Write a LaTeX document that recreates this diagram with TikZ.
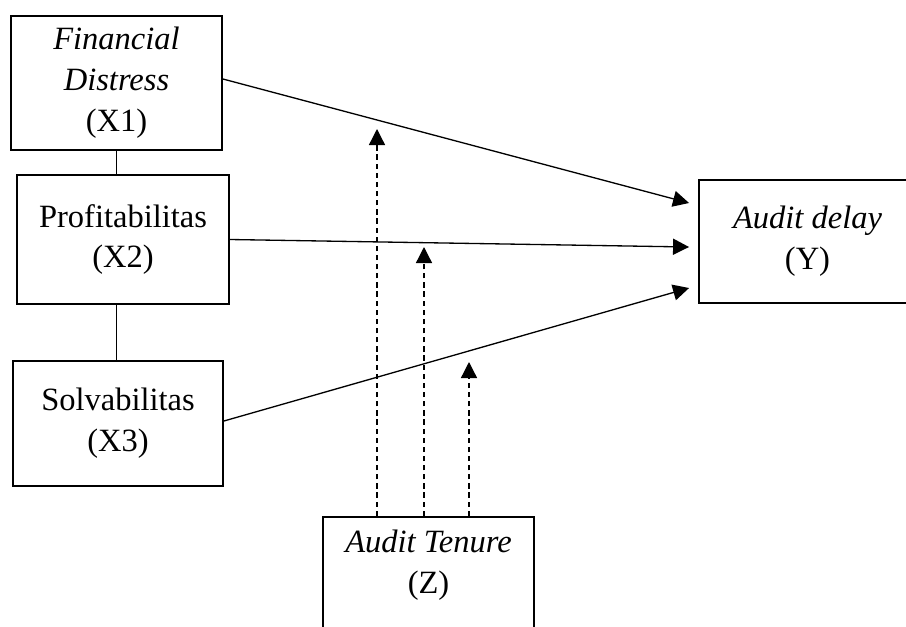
\documentclass[tikz,border=0pt]{standalone}
\usepackage{fontspec}
\setmainfont{Liberation Serif}
\usetikzlibrary{arrows.meta,calc}
\begin{document}
\begin{tikzpicture}[x=0.02cm,y=-0.02cm,font=\fontsize{18.5}{23.3}\selectfont,
  box/.style={draw,line width=1.1pt,rectangle,align=center,inner sep=0pt},
  link/.style={line width=0.75pt,-{Triangle[length=0.32cm,width=0.32cm]}},
  moderate/.style={link,dash pattern=on 3pt off 2.2pt}]
\useasboundingbox (0,0) rectangle (906,626);
\node[box,minimum width=4.22cm,minimum height=2.68cm] (x1) at (116.5,83) {\textit{Financial}\\ \textit{Distress}\\ (X1)};
\node[box,minimum width=4.24cm,minimum height=2.58cm] (x2) at (123,239.5) {Profitabilitas\\ (X2)};
\node[box,minimum width=4.2cm,minimum height=2.5cm] (x3) at (118,423.5) {Solvabilitas\\ (X3)};
\node[box,minimum width=4.34cm,minimum height=2.46cm] (y) at (807.5,241.5) {\textit{Audit delay}\\ (Y)};
\node[box,minimum width=4.22cm,minimum height=2.8cm,anchor=north,
  label={[anchor=north,yshift=-0.16cm,align=center]north:\textit{Audit Tenure}\\ (Z)}] (z) at (428.5,516) {};
\draw[line width=0.75pt] (x1.south) -- (x1.south |- x2.north);
\draw[line width=0.75pt] (x2.south -| x1.south) -- (x3.north -| x1.south);
\draw[link] ($(x1.east)+(0,-4)$) -- ($(y.west)+(-9,-38.5)$);
\draw[link] (x2.east) -- ($(y.west)+(-9,5.5)$);
\draw[link] ($(x3.east)+(0,-2.5)$) -- ($(y.west)+(-9,46.5)$);
\coordinate (m1) at (377,129);
\coordinate (m2) at (424,247);
\coordinate (m3) at (469,362);
\draw[moderate] (z.north -| m1) -- (m1);
\draw[moderate] (z.north -| m2) -- (m2);
\draw[moderate] (z.north -| m3) -- (m3);
\end{tikzpicture}
\end{document}
